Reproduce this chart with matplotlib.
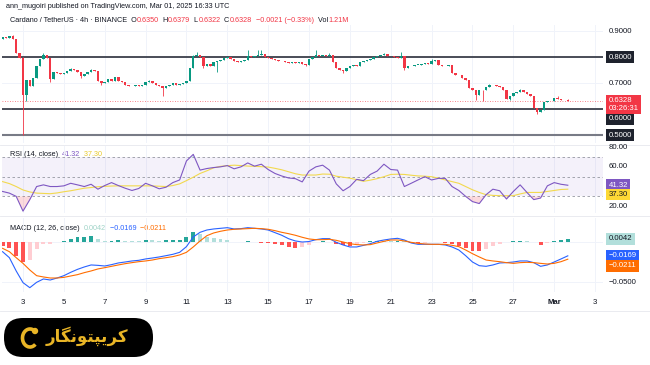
import numpy as np
import matplotlib
matplotlib.use("Agg")
import matplotlib.pyplot as plt
from matplotlib.patches import FancyBboxPatch, Arc, Circle

plt.rcParams['font.family'] = ['Liberation Sans', 'DejaVu Sans']

##############################################################################
""" DATA """
# ADA/USDT 4h closes, Feb 02 00:00 -> Mar 01 16:00 (open = previous close)
first_open = 0.872
closes = [0.878, 0.874, 0.881, 0.870, 0.815, 0.797, 0.655, 0.712, 0.690, 0.720,
          0.765, 0.795, 0.810, 0.798, 0.716, 0.745, 0.741, 0.735, 0.740, 0.746,
          0.755, 0.750, 0.742, 0.726, 0.735, 0.745, 0.750, 0.746, 0.710, 0.700,
          0.705, 0.715, 0.710, 0.725, 0.710, 0.705, 0.695, 0.690, 0.688, 0.692,
          0.688, 0.695, 0.705, 0.708, 0.700, 0.695, 0.688, 0.683, 0.690, 0.695,
          0.700, 0.695, 0.698, 0.702, 0.710, 0.760, 0.805, 0.810, 0.800, 0.765,
          0.775, 0.768, 0.780, 0.786, 0.790, 0.797, 0.800, 0.795, 0.786, 0.783,
          0.787, 0.790, 0.805, 0.800, 0.806, 0.808, 0.812, 0.800, 0.797, 0.794,
          0.790, 0.787, 0.784, 0.780, 0.779, 0.780, 0.778, 0.782, 0.775, 0.772,
          0.795, 0.800, 0.808, 0.805, 0.808, 0.806, 0.810, 0.780, 0.760, 0.752,
          0.748, 0.758, 0.765, 0.772, 0.768, 0.780, 0.786, 0.790, 0.795, 0.800,
          0.805, 0.810, 0.812, 0.806, 0.803, 0.800, 0.797, 0.806, 0.758, 0.765,
          0.768, 0.771, 0.772, 0.775, 0.779, 0.775, 0.787, 0.788, 0.772, 0.768,
          0.765, 0.771, 0.738, 0.733, 0.730, 0.722, 0.713, 0.681, 0.672, 0.655,
          0.674, 0.672, 0.686, 0.692, 0.693, 0.690, 0.686, 0.674, 0.640, 0.650,
          0.662, 0.668, 0.674, 0.668, 0.657, 0.649, 0.604, 0.588, 0.597, 0.627,
          0.632, 0.633, 0.642, 0.638, 0.636, 0.635, 0.6328]
# notable wicks {candle index: price}
wick_high = {3: 0.886, 6: 0.800, 12: 0.815, 20: 0.760, 26: 0.755, 43: 0.712,
             56: 0.808, 57: 0.822, 72: 0.828, 75: 0.826, 76: 0.828, 92: 0.828,
             96: 0.815, 112: 0.817, 117: 0.822, 126: 0.792, 143: 0.696,
             152: 0.678, 163: 0.650, 166: 0.6379}
wick_low = {6: 0.500, 7: 0.630, 14: 0.705, 23: 0.720, 29: 0.695, 47: 0.652,
            59: 0.758, 63: 0.745, 89: 0.766, 100: 0.740, 118: 0.752,
            139: 0.635, 141: 0.632, 149: 0.635, 157: 0.581, 166: 0.6322}

# indicators sampled every 8h (every 2nd candle)
rsi = [35.0, 33.3, 30.0, 15.0, 26.7, 40.0, 41.7, 40.0, 40.0, 40.7,
       43.3, 41.7, 40.0, 42.3, 37.3, 41.0, 44.0, 41.0, 38.3, 36.0,
       38.0, 43.3, 40.7, 37.7, 39.3, 44.0, 46.7, 66.0, 72.7, 56.7,
       58.3, 59.3, 60.0, 61.3, 58.0, 60.0, 64.0, 60.7, 62.7, 57.3,
       53.3, 50.7, 48.7, 48.0, 44.7, 55.7, 60.0, 61.7, 56.7, 42.7,
       35.7, 40.0, 47.3, 46.0, 52.3, 55.7, 62.7, 57.3, 56.7, 40.0,
       43.3, 46.7, 50.0, 46.7, 48.3, 48.3, 40.0, 36.0, 30.0, 24.7,
       22.7, 31.7, 37.3, 35.7, 27.3, 35.0, 41.7, 34.0, 26.7, 28.3,
       40.7, 44.0, 42.3, 41.32]
rsi_ma = [45.0, 43.0, 40.0, 36.5, 34.5, 33.3, 33.0, 32.7, 33.5, 34.7,
          35.7, 37.0, 38.3, 39.0, 39.8, 40.2, 40.5, 40.7, 40.7, 40.7,
          40.7, 40.7, 40.6, 40.3, 40.0, 41.0, 42.7, 46.0, 49.5, 53.3,
          56.0, 59.0, 60.5, 61.2, 61.7, 61.3, 60.8, 60.5, 60.2, 59.8,
          58.5, 57.0, 55.0, 53.0, 51.7, 51.7, 51.7, 52.7, 52.5, 50.5,
          49.5, 48.5, 47.0, 45.3, 46.5, 48.0, 50.0, 52.3, 52.5, 52.3,
          51.5, 50.8, 50.5, 50.0, 48.5, 46.7, 45.0, 43.3, 40.0, 36.7,
          34.0, 31.7, 31.0, 30.7, 30.7, 30.7, 32.5, 34.0, 34.0, 34.0,
          35.0, 36.0, 37.0, 37.3]
# MACD values in thousandths
macd = [-11.7, -19.2, -35.8, -50.4, -56.7, -50.0, -45.8, -47.1, -44.6, -41.7,
        -37.5, -33.8, -30.8, -28.3, -28.8, -29.6, -27.9, -25.8, -24.6, -23.3,
        -22.5, -20.8, -19.6, -18.3, -16.7, -15.0, -12.5, -5.4, 6.7, 12.5,
        15.4, 16.7, 17.5, 18.3, 16.7, 17.1, 18.3, 17.5, 16.7, 15.4,
        12.1, 8.8, 4.5, 1.7, 0.4, 1.0, 3.3, 4.6, 4.6, 0.0,
        -3.3, -5.8, -5.8, -3.8, -1.7, 1.3, 2.9, 4.2, 5.0, 2.9,
        -0.8, -2.5, -2.5, -2.5, -2.5, -3.3, -5.8, -9.6, -16.7, -24.6,
        -29.2, -30.0, -28.3, -25.8, -25.4, -24.6, -23.3, -23.3, -25.4, -30.0,
        -28.3, -24.6, -20.8, -16.9]
signal = [-7.5, -11.7, -19.2, -26.3, -34.6, -41.7, -43.3, -44.6, -44.6, -43.8,
          -42.1, -40.4, -37.9, -35.8, -33.3, -31.7, -30.0, -28.3, -26.7, -25.4,
          -24.2, -23.3, -22.1, -20.4, -19.2, -17.9, -15.8, -12.5, -5.8, 1.7,
          8.3, 11.7, 13.8, 15.4, 16.3, 16.7, 17.1, 17.5, 17.1, 16.3,
          14.6, 12.5, 10.8, 8.8, 6.3, 4.2, 3.3, 3.3, 3.75, 2.5,
          0.4, -1.7, -2.9, -3.3, -2.9, -0.8, 1.25, 2.9, 2.9, 1.7,
          0.0, -1.25, -2.1, -2.5, -2.5, -2.5, -3.75, -5.4, -9.6, -14.2,
          -18.3, -22.1, -23.3, -24.2, -25.4, -26.3, -25.4, -25.0, -25.4, -26.3,
          -27.1, -26.3, -24.2, -21.1]

tick_days = [3, 5, 7, 9, 11, 13, 15, 17, 19, 21, 23, 25, 27, 29, 31]
tick_labels = ['3', '5', '7', '9', '11', '13', '15', '17', '19', '21', '23',
               '25', '27', 'Mar', '3']
price_ticks = [0.9, 0.8, 0.7, 0.6, 0.5]
levels = [0.8, 0.6, 0.5]
last_price = 0.6328

##############################################################################
""" STYLE """
UP, DOWN = '#089981', '#f23645'
DARK = '#131722'
GRID = '#f0f3fa'
FS = 5.6
HFS = 5.2

L_PX, R_PX = 2, 603
X0 = 3 + (L_PX - 23) / 20.43
X1 = 3 + (R_PX - 23) / 20.43

fig = plt.figure(figsize=(6.5, 3.65), dpi=100)
fig.patch.set_facecolor('white')
pix = fig.add_axes([0, 0, 1, 1], zorder=0)
pix.set_xlim(0, 650)
pix.set_ylim(365, 0)
pix.axis('off')


def pane(top, bottom, ylim):
    a = fig.add_axes([L_PX / 650, 1 - bottom / 365, (R_PX - L_PX) / 650,
                      (bottom - top) / 365], zorder=1)
    a.patch.set_visible(False)
    for s in a.spines.values():
        s.set_visible(False)
    a.tick_params(length=0, labelleft=False, labelbottom=False)
    a.set_xlim(X0, X1)
    a.set_ylim(*ylim)
    a.set_yticks([])
    a.set_xticks(tick_days)
    for d in tick_days:
        a.axvline(d, color=GRID, lw=0.7, zorder=0)
    return a


def side_label(ax, y, text, fc=None, tc=DARK, dy=0, z=5):
    box = dict(boxstyle='square,pad=0.3', fc=fc, ec='none') if fc else None
    ax.annotate(text, xy=(1, y), xycoords=ax.get_yaxis_transform(),
                xytext=(4, dy), textcoords='offset points', ha='left',
                va='center', fontsize=FS, color=tc, bbox=box, zorder=z,
                annotation_clip=False)


def chain(x, y, parts, size=HFS):
    t = pix.text(x, y, parts[0][0], color=parts[0][1], fontsize=size,
                 ha='left', va='center')
    for s, c in parts[1:]:
        t = pix.annotate(s, xy=(1, 0), xycoords=t, ha='left', va='bottom',
                         color=c, fontsize=size)


##############################################################################
""" PRICE PANE """
ax = pane(25, 143, (0.470, 0.924))
closes_a = np.array(closes)
opens = np.concatenate([[first_open], closes_a[:-1]])
t = 2 + np.arange(len(closes_a)) / 6
highs = np.maximum(opens, closes_a)
lows = np.minimum(opens, closes_a)
for i, v in wick_high.items():
    highs[i] = v
for i, v in wick_low.items():
    lows[i] = v
col = np.where(closes_a >= opens, UP, DOWN)

for p in price_ticks:
    ax.axhline(p, color=GRID, lw=0.7, zorder=0)
for lv in levels:
    ax.axhline(lv, color='#787b86' if lv == 0.5 else '#3b3f4a',
               lw=1.5 if lv == 0.5 else 1.3, zorder=1)
ax.axhline(last_price, color=DOWN, lw=0.6, ls=(0, (1, 2)), alpha=0.8, zorder=1)

ax.vlines(t, lows, highs, colors=col, lw=0.6, zorder=2)
ax.bar(t, np.maximum(np.abs(closes_a - opens), 0.0012),
       bottom=np.minimum(opens, closes_a), width=0.12, color=col, lw=0, zorder=3)

side_label(ax, 0.9, '0.9000')
side_label(ax, 0.8, '0.8000', fc='#1e222d', tc='white')
side_label(ax, 0.7, '0.7000')
side_label(ax, 0.6, '0.6000', fc='#1e222d', tc='white', dy=-7)
side_label(ax, 0.5, '0.5000', fc='#1e222d', tc='white')
ax.annotate(f'{last_price:.4f}\n03:26:31', xy=(1, last_price),
            xycoords=ax.get_yaxis_transform(), xytext=(4, 2.5),
            textcoords='offset points', ha='left', va='top', fontsize=FS,
            color='white', linespacing=1.15, annotation_clip=False, zorder=6,
            bbox=dict(boxstyle='square,pad=0.3', fc=DOWN, ec='none'))

##############################################################################
""" RSI PANE """
ar = pane(146, 213, (13.1, 81.2))
ti = 2 + np.arange(len(rsi)) / 3
rsi_a = np.array(rsi)
ar.axhspan(30, 70, color='#7e57c2', alpha=0.08, lw=0, zorder=0)
for lv in (70, 50, 30):
    ar.axhline(lv, color='#9598a1', lw=0.6, ls=(0, (3, 3)), zorder=1)
ar.fill_between(ti, rsi_a, 30, where=rsi_a < 30, interpolate=True,
                color=DOWN, alpha=0.18, lw=0, zorder=1)
ar.fill_between(ti, rsi_a, 70, where=rsi_a > 70, interpolate=True,
                color=UP, alpha=0.18, lw=0, zorder=1)
ar.plot(ti, rsi_ma, color='#f2d94e', lw=0.8, zorder=2)
ar.plot(ti, rsi_a, color='#7e57c2', lw=0.8, zorder=3)

side_label(ar, 80, '80.00', z=2)
side_label(ar, 60, '60.00')
side_label(ar, rsi[-1], f'{rsi[-1]:.2f}', fc='#7e57c2', tc='white')
side_label(ar, rsi_ma[-1], '37.30', fc='#fdd835', tc=DARK, dy=-3.8)
side_label(ar, 20, '20.00')

##############################################################################
""" MACD PANE """
am = pane(218, 292, (-0.0621, 0.0304))
m = np.array(macd) / 1000
s = np.array(signal) / 1000
h = m - s
hcol = []
for k, v in enumerate(h):
    prev = h[k - 1] if k else 0
    if v >= 0:
        hcol.append('#26a69a' if v > prev else '#b2dfdb')
    else:
        hcol.append('#ff5252' if v < prev else '#ffcdd2')
am.axhline(0, color=GRID, lw=0.7, zorder=0)
am.axhline(-0.05, color=GRID, lw=0.7, zorder=0)
am.bar(ti, h, width=0.19, color=hcol, lw=0, zorder=1)
am.plot(ti, m, color='#2962ff', lw=0.8, zorder=2)
am.plot(ti, s, color='#ff6d00', lw=0.8, zorder=3)

side_label(am, 0, '0.0000', z=2)
side_label(am, h[-1], f'{h[-1]:.4f}', fc='#b2dfdb', tc=DARK)
side_label(am, m[-1], '\u22120.0169', fc='#2962ff', tc='white')
side_label(am, s[-1], '\u22120.0211', fc='#ff6d00', tc='white', dy=-4.8)
side_label(am, -0.05, '\u22120.0500')

am.tick_params(labelbottom=True, pad=5, labelsize=FS, labelcolor=DARK)
am.set_xticklabels(tick_labels)
for lab in am.get_xticklabels():
    if lab.get_text() == 'Mar':
        lab.set_fontweight('bold')

##############################################################################
""" HEADER, SEPARATORS, LOGO """
pix.text(6, 7, 'ann_mugoiri published on TradingView.com, Mar 01, 2025 16:33 UTC',
         fontsize=HFS, color=DARK, ha='left', va='center')
red = DOWN
chain(10, 20, [('Cardano / TetherUS \u00b7 4h \u00b7 BINANCE  O', DARK),
               ('0.6350', red), ('  H', DARK), ('0.6379', red), ('  L', DARK),
               ('0.6322', red), ('  C', DARK), ('0.6328', red),
               ('  \u22120.0021 (\u22120.33%)', red), ('  Vol', DARK),
               ('1.21M', red)])
chain(10, 155, [('RSI (14, close)  ', DARK), ('41.32', '#7e57c2'),
                ('  37.30', '#e8c92c')])
chain(10, 229, [('MACD (12, 26, close)  ', DARK), ('0.0042', '#9fd3c7'),
                ('  \u22120.0169', '#2962ff'), ('  \u22120.0211', '#ff6d00')])

for yy in (145, 216, 311):
    pix.axhline(yy, color='#e6e8ee', lw=0.6)

pix.add_patch(FancyBboxPatch((4, 318), 149, 39,
                             boxstyle='round,pad=0,rounding_size=19',
                             fc='black', ec='none'))
gold = '#e9b526'
pix.add_patch(Arc((30, 338), 15, 18, theta1=50, theta2=320, lw=2.6, color=gold))
pix.add_patch(Circle((35, 331), 3.2, fc=gold, ec='none'))
# کریپتونگار in joined presentation forms, visual order
farsi = '\uFEAD\uFE8E\uFB95\uFEE7\uFEEE\uFE98\uFB59\uFBFE\uFEAE\uFB90'
pix.text(87, 336, farsi, color=gold, fontsize=12, fontweight='bold',
         family=['DejaVu Sans', 'Noto Sans'], ha='center', va='center')

fig.savefig('out.png', dpi=100, facecolor='white')
